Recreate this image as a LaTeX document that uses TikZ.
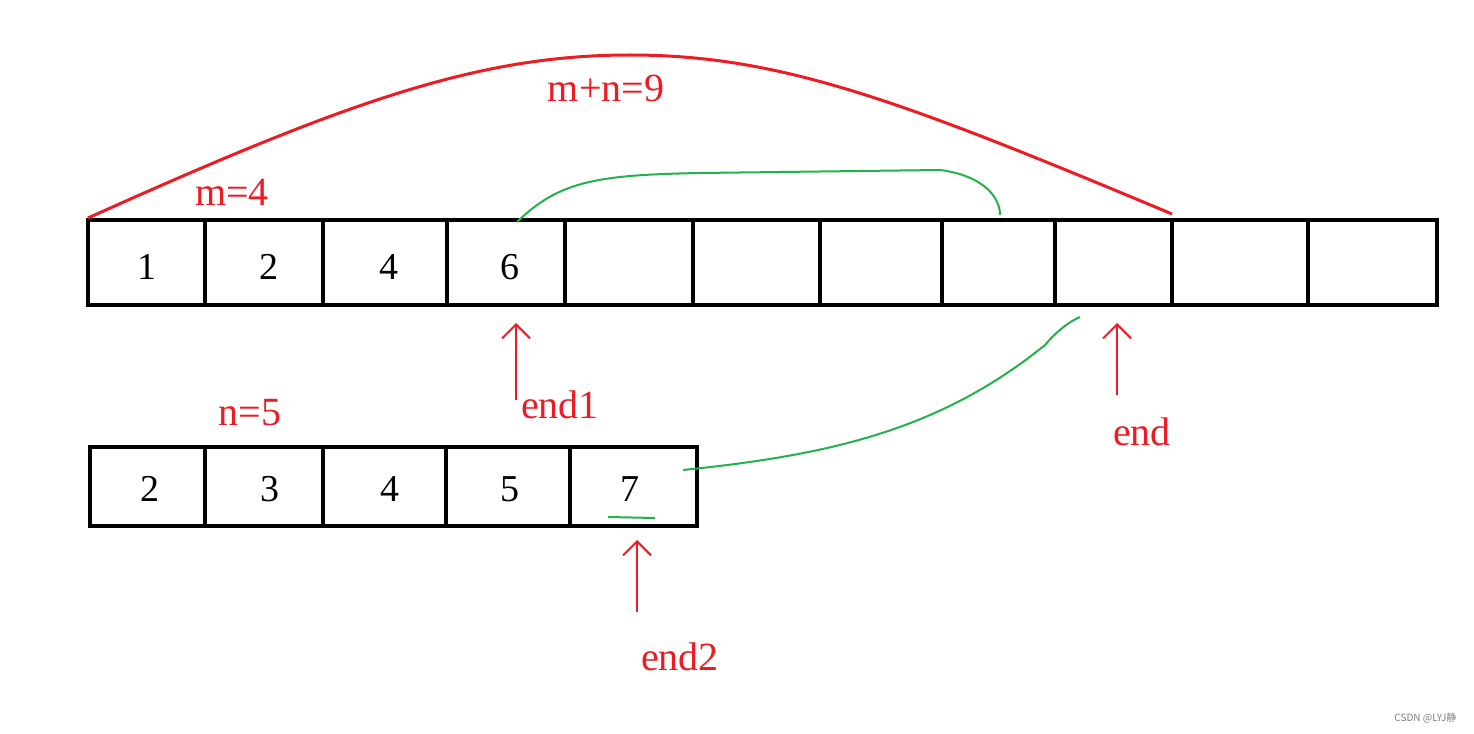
\documentclass[tikz,border=0pt]{standalone}
\usepackage{fontspec}
\setmainfont{Liberation Serif}
\newfontfamily\cjk{Noto Sans CJK SC}
\usetikzlibrary{arrows.meta}
\definecolor{pred}{RGB}{237,28,36}
\definecolor{pgreen}{RGB}{34,177,76}
\begin{document}
\begin{tikzpicture}[x=1pt,y=-1pt,
  cell/.style={draw=black,line width=4pt},
  num/.style={font=\fontsize{38}{38}\selectfont},
  lab/.style={text=pred,font=\fontsize{40}{40}\selectfont},
  grn/.style={draw=pgreen,line width=2pt},
  uparr/.style={draw=pred,line width=2pt,-{Straight Barb[length=14pt,width=28pt]}}]
\useasboundingbox[fill=white] (0,0) rectangle (1474,733);
% top array
\foreach \a/\b in {88/205,205/323,323/447,447/565,565/693,693/820,820/942,942/1055,1055/1172,1172/1308,1308/1437}
  \draw[cell] (\a,220) rectangle (\b,305);
\node[num] (t1) at (147,267) {1};
\node[num] (t2) at (269,267) {2};
\node[num] (t3) at (389,267) {4};
\node[num] (t4) at (510,267) {6};
% bottom array
\foreach \a/\b in {90/205,205/323,323/446,446/570,570/697}
  \draw[cell] (\a,447) rectangle (\b,526);
\node[num] (b1) at (150,489) {2};
\node[num] (b2) at (270,489) {3};
\node[num] (b3) at (390,489) {4};
\node[num] (b4) at (510,489) {5};
\node[num] (b5) at (630,489) {7};
% red arc
\coordinate (arcL) at (88,218);
\coordinate (arcR) at (1172,214);
\draw[pred,line width=3pt] (arcL) .. controls (350,100) and (480,55) .. (630,55) .. controls (780,55) and (900,100) .. (arcR);
\node[lab] (mn) at (606,88) {m+n=9};
\node[lab] (m) at (232,192) {m=4};
\node[lab] (n) at (250,413) {n=5};
% arrows
\coordinate (e1s) at (516,400); \coordinate (e1t) at (516,323);
\draw[uparr] (e1s) -- (e1t);
\node[lab] (end1) at (560,405) {end1};
\coordinate (es) at (1117,395); \coordinate (et) at (1117,323);
\draw[uparr] (es) -- (et);
\node[lab] (end) at (1142,432) {end};
\coordinate (e2s) at (637,612); \coordinate (e2t) at (637,540);
\draw[uparr] (e2s) -- (e2t);
\node[lab] (end2) at (680,657) {end2};
% green
\coordinate (g1) at (517,222); \coordinate (g2) at (1000,215);
\draw[grn] (g1) .. controls (560,180) and (600,175) .. (700,173) -- (940,170) .. controls (980,175) and (1000,195) .. (g2);
\coordinate (g3) at (683,470); \coordinate (g4) at (1080,317);
\draw[grn] (g3) .. controls (830,455) and (940,430) .. (1045,345) .. controls (1055,333) and (1068,322) .. (g4);
\coordinate (u1) at (608,517); \coordinate (u2) at (655,518);
\draw[grn] (u1) -- (u2);
\node[text=gray,font=\cjk\fontsize{10}{10}\selectfont,anchor=east] (wm) at (1460,718) {CSDN @LYJ静};
\end{tikzpicture}
\end{document}
